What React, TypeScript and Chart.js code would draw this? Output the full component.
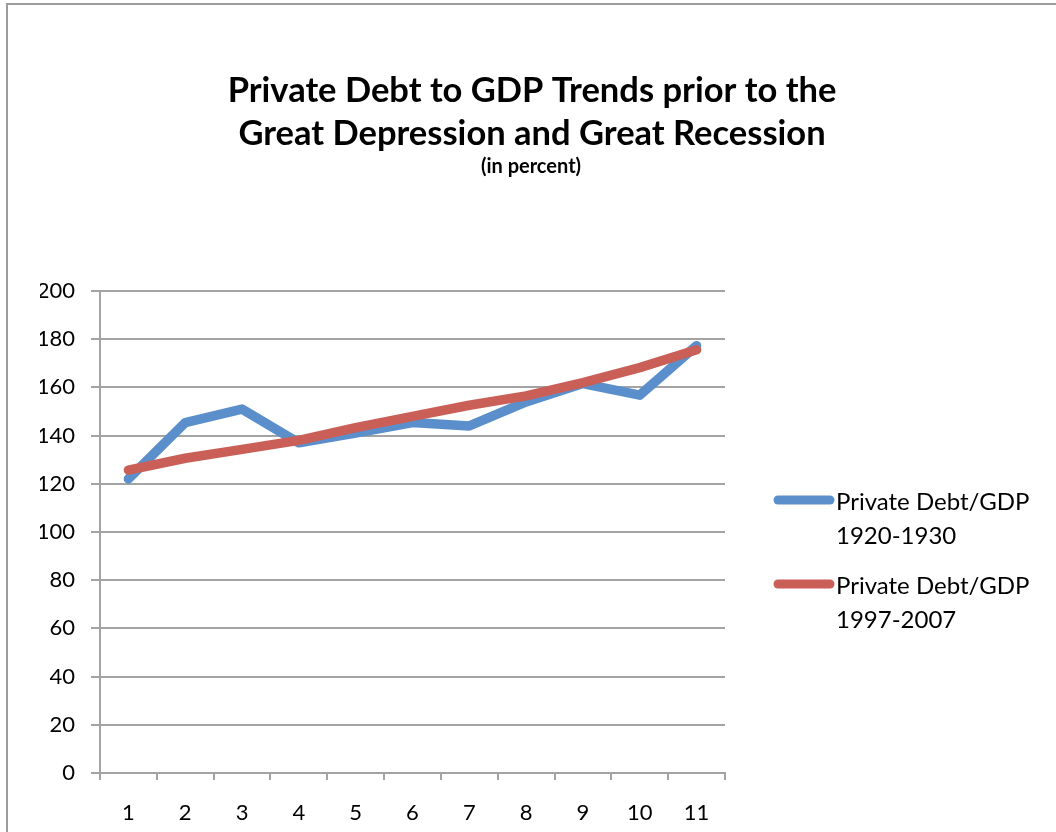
import React, { useEffect, useRef } from "react";
import { Chart, registerables } from "chart.js";

Chart.register(...registerables);

const categories = ["1", "2", "3", "4", "5", "6", "7", "8", "9", "10", "11"];
const debt1920s = [122, 145.4, 151, 137, 141, 145.4, 144, 154, 161.6, 156.8, 177.3];
const debt1997 = [125.7, 130.6, 134.3, 138, 143.3, 148, 152.6, 156.5, 162, 168.2, 175.6];
const seriesNames = [
  ["Private Debt/GDP", "1920-1930"],
  ["Private Debt/GDP", "1997-2007"],
];
const titleLines = ["Private Debt to GDP Trends prior to the", "Great Depression and Great Recession"];
const subtitleText = "(in percent)";
const yMin = 0;
const yMax = 200;
const yStep = 20;

const FONT = "Lato, 'Open Sans', sans-serif";
const BLUE = "#5b8fcb";
const RED = "#ca5f58";
const GRID = "#a3a3a3";

const titlePlugin = {
  id: "customTitle",
  afterDraw(chart: any) {
    const ctx = chart.ctx;
    ctx.save();
    ctx.fillStyle = "#000";
    ctx.textAlign = "center";
    ctx.textBaseline = "alphabetic";
    ctx.font = `bold 34.5px ${FONT}`;
    ctx.fillText(titleLines[0], 532, 102);
    ctx.fillText(titleLines[1], 532, 145);
    ctx.font = `bold 20px ${FONT}`;
    ctx.fillText(subtitleText, 531, 173);
    ctx.restore();
  },
};

const legendPlugin = {
  id: "customLegend",
  afterDraw(chart: any) {
    const ctx = chart.ctx;
    ctx.save();
    const tops = [500, 584];
    chart.data.datasets.forEach((ds: any, i: number) => {
      const y = tops[i];
      ctx.strokeStyle = ds.borderColor;
      ctx.lineWidth = 9;
      ctx.lineCap = "round";
      ctx.beginPath();
      ctx.moveTo(778, y);
      ctx.lineTo(830, y);
      ctx.stroke();
      ctx.fillStyle = "#000";
      ctx.font = `24px ${FONT}`;
      ctx.textAlign = "left";
      ctx.textBaseline = "middle";
      const lines = ds.legendLines as string[];
      lines.forEach((t, j) => ctx.fillText(t, 836, y + 2 + j * 34));
    });
    ctx.restore();
  },
};

export default function App() {
  const ref = useRef<HTMLCanvasElement>(null);
  useEffect(() => {
    if (!ref.current) return;
    const chart = new Chart(ref.current, {
      type: "line",
      data: {
        labels: categories,
        datasets: [
          {
            label: seriesNames[0].join(" "),
            legendLines: seriesNames[0],
            data: debt1920s,
            borderColor: BLUE,
            backgroundColor: BLUE,
            borderWidth: 9.5,
            borderCapStyle: "round",
            borderJoinStyle: "round",
            pointRadius: 0,
            tension: 0,
            order: 1,
          } as any,
          {
            label: seriesNames[1].join(" "),
            legendLines: seriesNames[1],
            data: debt1997,
            borderColor: RED,
            backgroundColor: RED,
            borderWidth: 9.5,
            borderCapStyle: "round",
            borderJoinStyle: "round",
            pointRadius: 0,
            tension: 0,
            order: 0,
          } as any,
        ],
      },
      options: {
        animation: false,
        responsive: false,
        layout: { padding: { left: 40, top: 291, right: 331, bottom: 0 } },
        plugins: {
          legend: { display: false },
          title: { display: false },
          tooltip: { enabled: false },
        },
        scales: {
          x: {
            type: "category",
            offset: true,
            afterFit: (s: any) => {
              s.height = 59;
            },
            grid: {
              offset: true,
              drawOnChartArea: false,
              drawTicks: true,
              tickLength: 7,
              color: GRID,
              lineWidth: 2,
            },
            border: { display: true, color: GRID, width: 2 },
            ticks: {
              color: "#000",
              font: { family: FONT, size: 22 },
              padding: 20,
              maxRotation: 0,
            },
          },
          y: {
            min: yMin,
            max: yMax,
            afterFit: (s: any) => {
              s.width = 60;
            },
            grid: {
              drawTicks: true,
              tickLength: 9,
              color: GRID,
              lineWidth: 2,
            },
            border: { display: true, color: GRID, width: 2 },
            ticks: {
              stepSize: yStep,
              color: "#000",
              font: { family: FONT, size: 22 },
              padding: 16,
            },
          },
        },
      },
      plugins: [titlePlugin, legendPlugin],
    });
    return () => chart.destroy();
  }, []);

  return (
    <div
      style={{
        position: "fixed",
        left: 0,
        top: 0,
        width: 1056,
        height: 832,
        overflow: "hidden",
        background: "#fff",
      }}
    >
      <div
        style={{
          position: "absolute",
          left: 6,
          top: 3,
          width: 2000,
          height: 2000,
          borderLeft: "2px solid #9c9c9c",
          borderTop: "2px solid #9c9c9c",
        }}
      />
      <canvas
        ref={ref}
        width={1056}
        height={832}
        style={{ position: "absolute", left: 0, top: 0, width: 1056, height: 832 }}
      />
    </div>
  );
}
